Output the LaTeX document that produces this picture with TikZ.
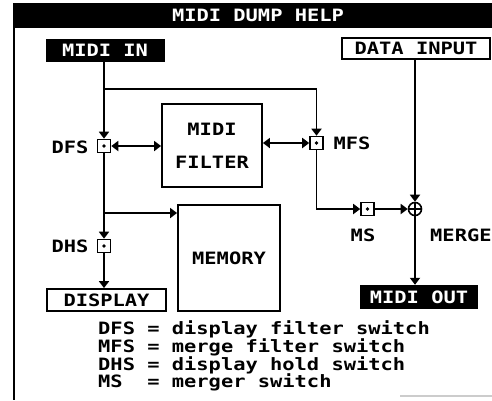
\documentclass[tikz,border=0pt]{standalone}
\usepackage{fontspec}
\setmonofont[FakeStretch=1.2]{DejaVu Sans Mono Bold}
\usetikzlibrary{arrows.meta}
\begin{document}
\begin{tikzpicture}[x=1pt,y=-1pt,
  txt/.style={font=\ttfamily\fontsize{17}{20}\selectfont, inner sep=0pt},
  ln/.style={line width=1.8pt},
  arr/.style={ln, -{Triangle[width=10pt,length=7pt]}},
  darr/.style={ln, {Triangle[width=10pt,length=7pt]}-{Triangle[width=10pt,length=7pt]}},
  blackbox/.style={txt, fill=black, text=white, minimum width=#1},
  whitebox/.style={txt, draw, ln, fill=white, minimum width=#1},
  block/.style={txt, draw, ln, align=center},
  switchbox/.style={draw, line width=1.6pt, fill=white, minimum size=13pt, inner sep=0pt,
    path picture={\fill[black] (path picture bounding box.center) circle (1.8pt);}},
  mergebox/.style={draw, circle, line width=1.6pt, fill=white, minimum size=13pt, inner sep=0pt,
    path picture={\draw[black, line width=1.4pt] (path picture bounding box.north) -- (path picture bounding box.south)
      (path picture bounding box.west) -- (path picture bounding box.east);}}
]
\useasboundingbox (0,0) rectangle (492,400);
% frame
\fill (13,3) rectangle (492,28);
\draw[ln] (14,28) -- (14,400);
\draw[gray!40, line width=1.2pt] (400,396) -- (492,396);
\node[txt, text=white] (title) at (258,15.5) {MIDI DUMP HELP};
% boxes
\node[blackbox=119pt, minimum height=23pt] (midiin) at (105,50.5) {MIDI IN};
\node[whitebox=148pt, minimum height=21pt] (datain) at (416,48.5) {DATA INPUT};
\node[block, minimum width=100pt, minimum height=83pt, font=\ttfamily\fontsize{17}{33}\selectfont] (filter) at (212,145.5) {MIDI\\FILTER};
\node[block, minimum width=102pt, minimum height=106pt] (memory) at (229,258) {MEMORY};
\node[whitebox=119pt, minimum height=22pt] (display) at (106.5,300) {DISPLAY};
\node[blackbox=118pt, minimum height=24pt] (midiout) at (419,297) {MIDI OUT};
% switches
\node[switchbox] (dfs) at (104,146) {};
\node[switchbox] (dhs) at (104,246) {};
\node[switchbox] (mfs) at (316.5,143) {};
\node[switchbox] (ms) at (367.5,209) {};
\node[mergebox] (merger) at (415,209) {};
% labels
\node[txt] (ldfs) at (70,147) {DFS};
\node[txt] (ldhs) at (70,246) {DHS};
\node[txt] (lmfs) at (352,143) {MFS};
\node[txt] (lms) at (363,235) {MS};
\node[txt, anchor=west] (lmerger) at (430,235) {MERGER};
% connectors
\coordinate (j1) at (104,89);
\coordinate (j2) at (104,213);
\draw[arr] (dfs |- midiin.south) -- (dfs.north);
\draw[arr] (j1) -- (j1 -| mfs) -- (mfs.north);
\draw[darr] (dfs.east) -- (dfs.east -| filter.west);
\draw[darr] (filter.east |- mfs) -- (mfs.west);
\draw[arr] (dfs.south) -- (dhs.north);
\draw[arr] (j2) -- (j2 -| memory.west);
\draw[arr] (dhs.south) -- (dhs |- display.north);
\draw[arr] (mfs.south) |- (ms.west);
\draw[arr] (ms.east) -- (merger.west);
\draw[arr] (merger |- datain.south) -- (merger.north);
\draw[arr] (merger.south) -- (merger |- midiout.north);
% legend
\node[txt, anchor=west] (leg1) at (98,329) {DFS = display filter switch};
\node[txt, anchor=west] (leg2) at (98,347) {MFS = merge filter switch};
\node[txt, anchor=west] (leg3) at (98,365) {DHS = display hold switch};
\node[txt, anchor=west] (leg4) at (98,382) {MS~~= merger switch};
\end{tikzpicture}
\end{document}
